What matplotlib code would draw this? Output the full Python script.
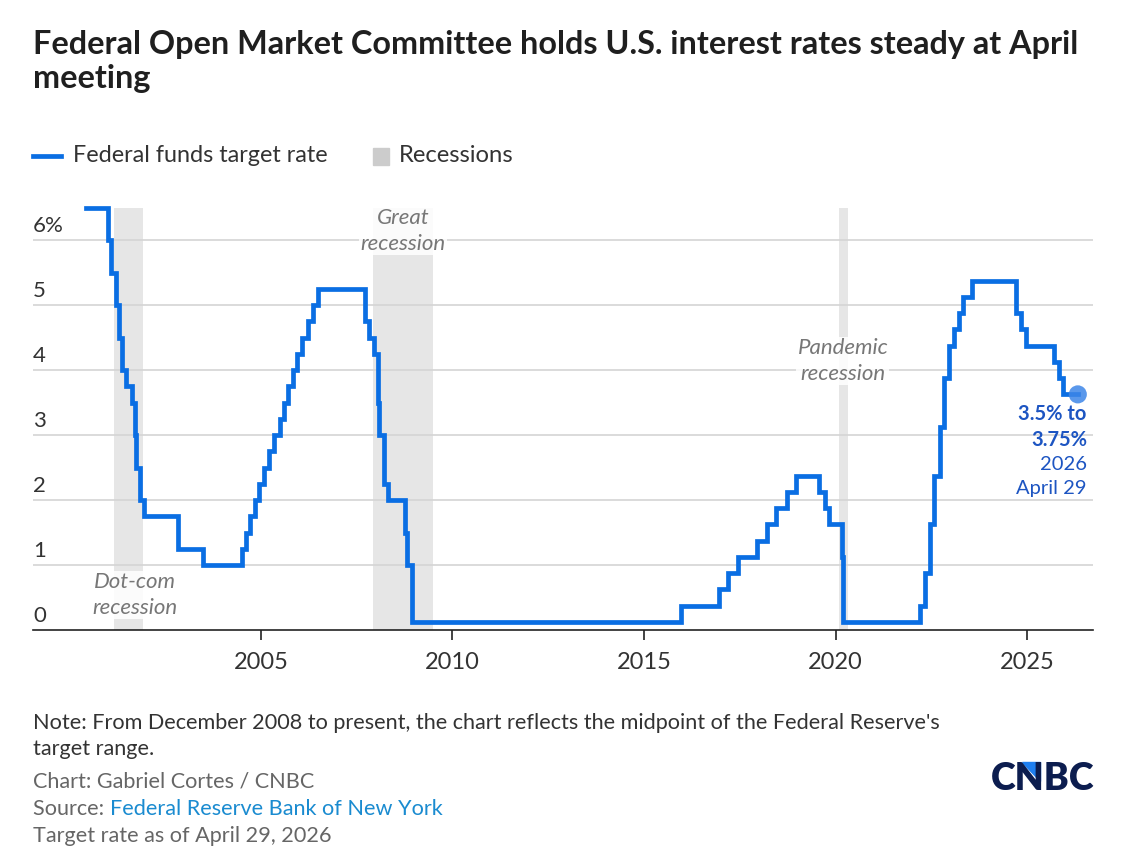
import matplotlib
matplotlib.use("Agg")
import matplotlib.pyplot as plt
import matplotlib.transforms as mtransforms
from matplotlib.lines import Line2D
from matplotlib.patches import Rectangle, Polygon
import pandas as pd

plt.rcParams['font.family'] = ['Lato', 'DejaVu Sans']

# ---- data ----
change_dates = [
    "2000-06-10", "2001-01-03", "2001-01-31", "2001-03-20", "2001-04-18", "2001-05-15",
    "2001-06-27", "2001-08-21", "2001-09-17", "2001-10-02", "2001-11-06", "2001-12-11",
    "2002-11-06", "2003-06-25", "2004-06-30", "2004-08-10", "2004-09-21", "2004-11-10",
    "2004-12-14", "2005-02-02", "2005-03-22", "2005-05-03", "2005-06-30", "2005-08-09",
    "2005-09-20", "2005-11-01", "2005-12-13", "2006-01-31", "2006-03-28", "2006-05-10",
    "2006-06-29", "2007-09-18", "2007-10-31", "2007-12-11", "2008-01-22", "2008-01-30",
    "2008-03-18", "2008-04-30", "2008-10-08", "2008-10-29", "2008-12-16", "2015-12-16",
    "2016-12-14", "2017-03-15", "2017-06-14", "2017-12-13", "2018-03-21", "2018-06-13",
    "2018-09-26", "2018-12-19", "2019-07-31", "2019-09-18", "2019-10-30", "2020-03-03",
    "2020-03-15", "2022-03-16", "2022-05-04", "2022-06-15", "2022-07-27", "2022-09-21",
    "2022-11-02", "2022-12-14", "2023-02-01", "2023-03-22", "2023-05-03", "2023-07-26",
    "2024-09-18", "2024-11-07", "2024-12-18", "2025-09-17", "2025-10-29", "2025-12-10",
    "2026-04-29",
]
target_rates = [
    6.5, 6.0, 5.5, 5.0, 4.5, 4.0,
    3.75, 3.5, 3.0, 2.5, 2.0, 1.75,
    1.25, 1.0, 1.25, 1.5, 1.75, 2.0,
    2.25, 2.5, 2.75, 3.0, 3.25, 3.5,
    3.75, 4.0, 4.25, 4.5, 4.75, 5.0,
    5.25, 4.75, 4.5, 4.25, 3.5, 3.0,
    2.25, 2.0, 1.5, 1.0, 0.125, 0.375,
    0.625, 0.875, 1.125, 1.375, 1.625, 1.875,
    2.125, 2.375, 2.125, 1.875, 1.625, 1.125,
    0.125, 0.375, 0.875, 1.625, 2.375, 3.125,
    3.875, 4.375, 4.625, 4.875, 5.125, 5.375,
    4.875, 4.625, 4.375, 4.125, 3.875, 3.625,
    3.625,
]
recession_starts = ["2001-03-01", "2007-12-01", "2020-02-01"]
recession_ends = ["2001-11-30", "2009-06-30", "2020-04-30"]
recession_labels = ["Dot-com\nrecession", "Great\nrecession", "Pandemic\nrecession"]
recession_label_pos = [(2001.71, 0.54), (2008.71, 6.14), (2020.19, 4.14)]
y_ticks = [0, 1, 2, 3, 4, 5, 6]
y_tick_labels = ["0", "1", "2", "3", "4", "5", "6%"]
x_ticks = [2005, 2010, 2015, 2020, 2025]


def to_year(s):
    d = pd.Timestamp(s)
    start = pd.Timestamp(year=d.year, month=1, day=1)
    end = pd.Timestamp(year=d.year + 1, month=1, day=1)
    return d.year + (d - start) / (end - start)


xs = [to_year(d) for d in change_dates]

BLUE = "#0a6ee3"
W, H = 1124, 849
fig = plt.figure(figsize=(W / 100, H / 100), dpi=100)
ax = fig.add_axes([33 / W, 1 - 630 / H, (1093 - 33) / W, (630 - 207.5) / H])

ax.set_xlim(1999.05, 2026.72)
ax.set_ylim(0, 6.5)

# recessions
for s, e in zip(recession_starts, recession_ends):
    ax.axvspan(to_year(s), to_year(e), color="#e6e6e6", lw=0, zorder=0)

# gridlines
for v in y_ticks[1:]:
    ax.axhline(v, color="#d4d4d4", lw=1.2, zorder=1)

# tick labels above gridlines
trans = mtransforms.blended_transform_factory(ax.transAxes, ax.transData)
for v, lab in zip(y_ticks, y_tick_labels):
    ax.text(0, v + 0.12, lab, transform=trans, ha="left", va="baseline",
            fontsize=16, color="#333333")

# recession labels
for lab, (lx, ly) in zip(recession_labels, recession_label_pos):
    ax.text(lx, ly, lab, ha="center", va="center", fontsize=16, style="italic",
            color="#777777", linespacing=1.35, zorder=3,
            bbox=dict(boxstyle="square,pad=0.05", fc="white", ec="none", alpha=0.85))

# line
ax.plot(xs, target_rates, drawstyle="steps-post", color=BLUE, lw=3.4,
        solid_joinstyle="miter", zorder=4, clip_on=False)
ax.scatter([xs[-1]], [target_rates[-1]], s=170, color="#3d86e8", alpha=0.85,
           zorder=5, clip_on=False, edgecolors="none")

# end annotation
LBL = "#1d55c2"
ax.text(2026.56, 3.32, "3.5% to", ha="right", va="center", fontsize=14.5,
        fontweight="bold", color=LBL)
ax.text(2026.56, 2.92, "3.75%", ha="right", va="center", fontsize=14.5,
        fontweight="bold", color=LBL)
ax.text(2026.56, 2.55, "2026", ha="right", va="center", fontsize=14.5, color=LBL)
ax.text(2026.56, 2.18, "April 29", ha="right", va="center", fontsize=14.5, color=LBL)

# axes styling
for sp in ["top", "right", "left"]:
    ax.spines[sp].set_visible(False)
ax.spines["bottom"].set_color("#222222")
ax.spines["bottom"].set_linewidth(1.2)
ax.set_yticks([])
ax.set_xticks(x_ticks)
ax.set_xticklabels([str(t) for t in x_ticks])
ax.tick_params(axis="x", length=7, width=1.2, color="#222222", pad=9,
               labelsize=17, labelcolor="#333333")

# title
fig.text(33 / W, 1 - 54 / H,
         "Federal Open Market Committee holds U.S. interest rates steady at April",
         ha="left", va="baseline", fontsize=23.3, fontweight="bold", color="#1f1f1f")
fig.text(33 / W, 1 - 88 / H, "meeting",
         ha="left", va="baseline", fontsize=23.3, fontweight="bold", color="#1f1f1f")

# legend
fig.add_artist(Line2D([33 / W, 61 / W], [1 - 156 / H, 1 - 156 / H], color=BLUE, lw=3.4))
fig.text(73 / W, 1 - 156 / H, "Federal funds target rate", ha="left", va="center",
         fontsize=16.8, color="#333333")
fig.add_artist(Rectangle((373 / W, 1 - 165 / H), 16 / W, 17 / H, color="#cccccc",
                         transform=fig.transFigure))
fig.text(399 / W, 1 - 156 / H, "Recessions", ha="left", va="center",
         fontsize=17.2, color="#333333")

# footer
FS = 15.6
fig.text(33 / W, 1 - 723 / H,
         "Note: From December 2008 to present, the chart reflects the midpoint of the Federal Reserve's",
         ha="left", va="center", fontsize=FS, color="#333333")
fig.text(33 / W, 1 - 749 / H, "target range.", ha="left", va="center", fontsize=FS,
         color="#333333")
fig.text(33 / W, 1 - 782 / H, "Chart: Gabriel Cortes / CNBC", ha="left", va="center",
         fontsize=FS, color="#666666")
src = fig.text(33 / W, 1 - 809 / H, "Source: ", ha="left", va="center", fontsize=FS,
               color="#666666")
fig.canvas.draw()
bb = src.get_window_extent()
fig.text(bb.x1 / W, 1 - 809 / H, "Federal Reserve Bank of New York", ha="left",
         va="center", fontsize=FS, color="#1a8bd0")
fig.text(33 / W, 1 - 836 / H, "Target rate as of April 29, 2026", ha="left",
         va="center", fontsize=FS, color="#666666")

# CNBC logo
fig.text(1094 / W, 1 - 779 / H, "CNBC", ha="right", va="center", fontsize=27,
         fontweight="heavy", color="#0c1d4f")
fig.add_artist(Polygon([(1022 / W, 1 - 762 / H), (1040 / W, 1 - 762 / H),
                        (1040 / W, 1 - 781 / H)], closed=True, color="#1e7ff0",
                       transform=fig.transFigure))

fig.savefig("out.png", dpi=100, facecolor="white")
